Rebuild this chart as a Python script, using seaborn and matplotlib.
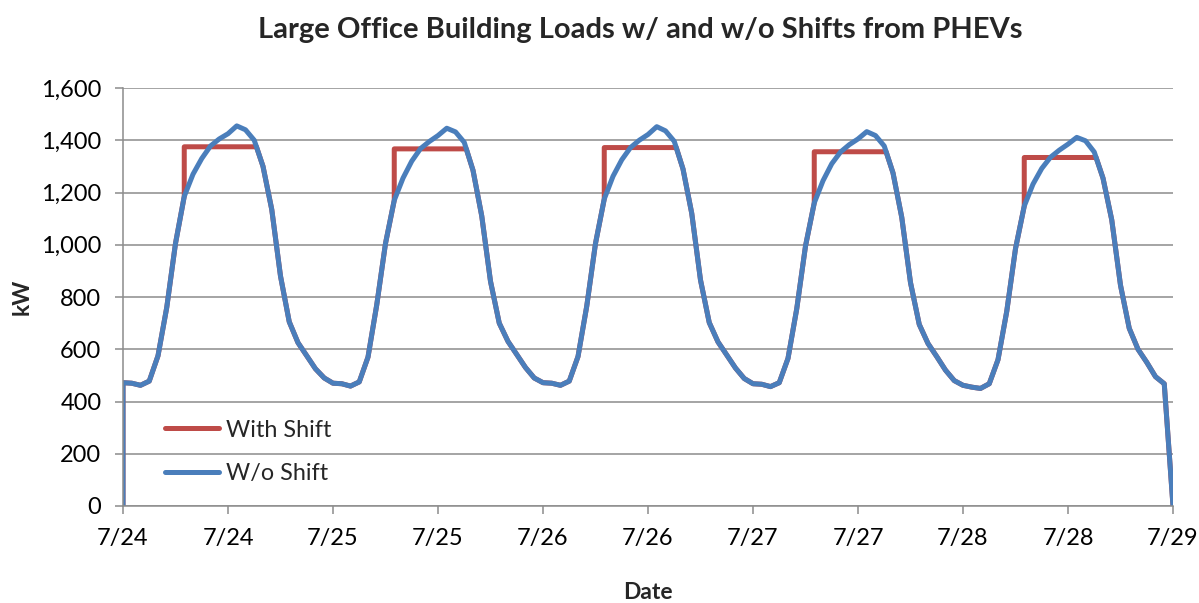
import matplotlib
matplotlib.use("Agg")
import matplotlib.pyplot as plt
import seaborn as sns
import pandas as pd
from matplotlib.ticker import FuncFormatter, MultipleLocator

# Hourly building load without charging shift (kW), one list per day, hours 0..23
LOAD_0724 = [472, 470, 462, 478, 575, 760, 1005, 1185, 1270, 1330, 1378, 1405,
             1425, 1455, 1440, 1400, 1300, 1135, 880, 705, 625, 575, 525, 490]
LOAD_0725 = [470, 468, 459, 475, 570, 770, 1005, 1170, 1255, 1320, 1368, 1395,
             1418, 1446, 1432, 1392, 1285, 1110, 860, 700, 630, 580, 530, 490]
LOAD_0726 = [472, 470, 462, 478, 572, 765, 1005, 1175, 1262, 1325, 1372, 1400,
             1422, 1452, 1436, 1396, 1290, 1120, 865, 702, 628, 578, 528, 488]
LOAD_0727 = [468, 466, 457, 472, 565, 755, 995, 1160, 1245, 1310, 1355, 1383,
             1405, 1433, 1418, 1378, 1275, 1105, 855, 695, 622, 572, 520, 480]
LOAD_0728 = [462, 455, 450, 468, 560, 745, 985, 1148, 1232, 1292, 1335, 1362,
             1385, 1411, 1398, 1355, 1255, 1095, 845, 680, 600, 550, 495, 468]

# Flattened daytime load with PHEV charging shifted (kW), start hour and end hour
SHIFT_LEVEL = [1375, 1367, 1372, 1356, 1334]
SHIFT_START = [7, 7, 7, 7, 7]
SHIFT_END = [15.25, 15.23, 15.23, 15.21, 15.21]

DATES = ["7/24", "7/25", "7/26", "7/27", "7/28", "7/29"]

days = [LOAD_0724, LOAD_0725, LOAD_0726, LOAD_0727, LOAD_0728]

# Series without shift: trace starts and ends at zero
t_wo, v_wo = [0], [0]
for d, load in enumerate(days):
    for h, v in enumerate(load):
        t_wo.append(24 * d + h)
        v_wo.append(v)
t_wo.append(24 * len(days))
v_wo.append(0)

# Series with shift: follows the base load outside the shift window
t_w, v_w = [0], [0]
for d, load in enumerate(days):
    start, end, level = SHIFT_START[d], SHIFT_END[d], SHIFT_LEVEL[d]
    for h in range(0, start + 1):
        t_w.append(24 * d + h)
        v_w.append(load[h])
    t_w += [24 * d + start, 24 * d + end]
    v_w += [level, level]
    for h in range(int(end) + 1, 24):
        t_w.append(24 * d + h)
        v_w.append(load[h])
t_w.append(24 * len(days))
v_w.append(0)

df = pd.concat([
    pd.DataFrame({"hour": t_w, "kW": v_w, "series": "With Shift"}),
    pd.DataFrame({"hour": t_wo, "kW": v_wo, "series": "W/o Shift"}),
], ignore_index=True)

sns.set_theme(style="white")
plt.rcParams["font.family"] = ["Lato", "DejaVu Sans"]

fig = plt.figure(figsize=(11.99, 6.03), dpi=100)
ax = fig.add_axes([123 / 1199, 1 - 506 / 603, 1050 / 1199, 418 / 603])

palette = {"With Shift": "#BE4B48", "W/o Shift": "#4A7EBB"}
sns.lineplot(data=df, x="hour", y="kW", hue="series", palette=palette,
             estimator=None, sort=False, linewidth=3.6, ax=ax,
             hue_order=["With Shift", "W/o Shift"])
for ln in ax.get_lines():
    ln.set_solid_joinstyle("round")

grid_c = "#8C8C8C"
ax.set_xlim(0, 120)
ax.set_ylim(0, 1600)
ax.yaxis.set_major_locator(MultipleLocator(200))
ax.yaxis.set_major_formatter(FuncFormatter(lambda v, p: f"{int(v):,}"))
ax.set_xticks(range(0, 121, 12))
tick_labels = [DATES[i // 2] for i in range(10)] + [DATES[-1]]
ax.set_xticklabels(tick_labels)
ax.grid(axis="y", color=grid_c, linewidth=1.1)
ax.grid(axis="x", visible=False)
ax.set_axisbelow(True)
for side in ["top", "right"]:
    ax.spines[side].set_visible(False)
for side in ["left", "bottom"]:
    ax.spines[side].set_color(grid_c)
    ax.spines[side].set_linewidth(1.1)
ax.tick_params(axis="both", which="major", direction="out", length=5.5,
               width=1.1, color=grid_c, labelsize=17, pad=10,
               labelcolor="black", left=True, bottom=True)

ax.set_xlabel("Date", fontsize=16.5, fontweight="bold", labelpad=24)
ax.set_ylabel("kW", fontsize=16.5, fontweight="bold", labelpad=6)

handles, labels = ax.get_legend_handles_labels()
for hnd in handles:
    hnd.set_linewidth(3.6)
ax.legend(handles, labels, loc="center left", bbox_to_anchor=(0.04, 0.13),
          frameon=False, fontsize=16.8, handlelength=2.3, handletextpad=0.3,
          labelspacing=0.95, borderpad=0, borderaxespad=0)

fig.text(640 / 1199, 1 - 30 / 603,
         "Large Office Building Loads w/ and w/o Shifts from PHEVs",
         ha="center", va="center", fontsize=21, fontweight="bold")

fig.savefig("out.png", dpi=100, facecolor="white")
